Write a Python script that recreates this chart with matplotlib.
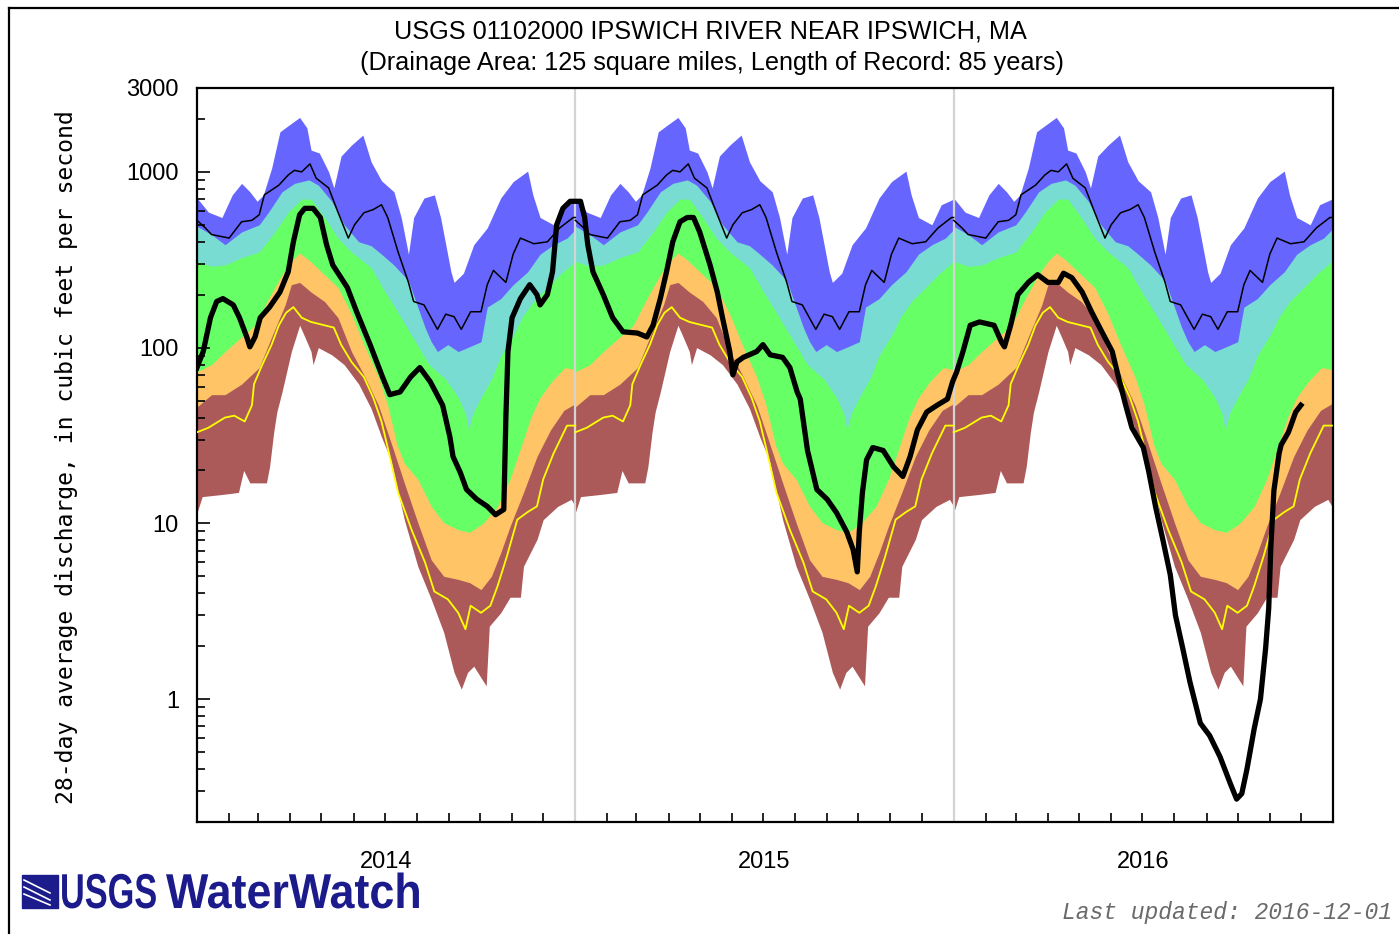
import numpy as np
import matplotlib
matplotlib.use("Agg")
import matplotlib.pyplot as plt
import matplotlib.dates as mdates
from matplotlib.ticker import NullFormatter
from matplotlib.lines import Line2D
from matplotlib.patches import Rectangle, PathPatch
from matplotlib.textpath import TextPath
from matplotlib.font_manager import FontProperties
from matplotlib.transforms import Affine2D

years = [2014, 2015, 2016]

# daily statistics for each day of the year (cfs) - same envelope every year
max_doy = [0, 11, 24, 34, 43, 51, 58, 64, 72, 80, 89, 99, 106, 110, 118, 127, 132, 139, 149, 160,
           168, 178, 190, 197, 204, 209, 219, 229, 235, 245, 248, 257, 267, 280, 293, 305, 319, 324,
           331, 344, 353, 365]
max_cfs = [710, 590, 550, 740, 860, 770, 680, 740, 1050, 1690, 1850, 2040, 1780, 1330, 1280, 1000,
           810, 1230, 1420, 1620, 1140, 890, 770, 550, 340, 550, 710, 740, 550, 270, 235, 265, 385,
           480, 710, 880, 1010, 740, 550, 500, 650, 700]

p90_doy = [0, 14, 27, 43, 60, 69, 82, 94, 108, 117, 130, 142, 156, 168, 178, 190, 204, 213, 220,
           226, 232, 242, 252, 261, 274, 280, 293, 305, 319, 331, 344, 357, 365]
p90_cfs = [490, 440, 385, 455, 500, 590, 770, 860, 900, 840, 680, 500, 400, 380, 340, 295, 240, 170,
           130, 108, 95, 104, 95, 100, 108, 170, 190, 228, 270, 340, 385, 420, 470]

p75_doy = [0, 14, 27, 43, 60, 75, 88, 101, 110, 123, 136, 149, 168, 180, 192, 208, 224, 240, 252,
           259, 262, 266, 274, 285, 293, 306, 314, 325, 338, 350, 365]
p75_cfs = [310, 290, 295, 325, 350, 455, 590, 700, 700, 550, 420, 350, 285, 215, 165, 115, 80, 66,
           52, 42, 34, 42, 52, 68, 90, 120, 150, 185, 220, 260, 310]

p25_doy = [0, 14, 27, 43, 56, 69, 82, 91, 99, 108, 123, 136, 149, 161, 175, 184, 193, 200, 213, 226,
           238, 252, 263, 276, 290, 302, 315, 322, 331, 342, 355, 365]
p25_cfs = [73, 80, 95, 115, 134, 190, 260, 310, 345, 315, 260, 220, 155, 104, 68, 47, 28, 22, 17.8,
           12.5, 10.1, 9.2, 8.9, 10, 12.5, 17.8, 30, 40, 52, 64, 77, 75]

p10_doy = [0, 14, 27, 43, 60, 72, 85, 91, 99, 110, 123, 136, 149, 161, 175, 187, 200, 213, 226, 238,
           252, 263, 274, 284, 293, 302, 315, 328, 341, 354, 365]
p10_cfs = [46, 54, 54, 62, 77, 115, 175, 228, 235, 207, 183, 148, 95, 70, 47, 29, 17, 10.1, 6.2, 5.0,
           4.8, 4.6, 4.2, 5.0, 6.8, 9.6, 15, 24, 34, 44, 48]

min_doy = [0, 5, 24, 40, 45, 51, 67, 70, 74, 77, 82, 91, 99, 104, 110, 112, 117, 130, 142, 156,
           168, 178, 187, 200, 213, 226, 238, 248, 255, 261, 267, 279, 282, 293, 302, 312, 315, 328,
           334, 348, 361, 365]
min_cfs = [11.5, 14.2, 14.6, 15, 20, 17, 17, 21, 33, 43, 56, 95, 134, 115, 95, 80, 100, 91, 80, 62,
           45, 31, 23, 10.5, 5.7, 3.7, 2.4, 1.42, 1.14, 1.42, 1.54, 1.19, 2.6, 3.1, 3.8, 3.8, 5.7,
           8.1, 10.5, 12.5, 13.7, 12.5]

# yellow and thin black daily lines
yel_doy = [0, 11, 27, 36, 46, 53, 55, 63, 72, 79, 86, 93, 101, 110, 123, 132, 139, 149, 161, 170,
           178, 184, 194, 207, 220, 229, 242, 252, 259, 264, 274, 283, 290, 299, 309, 319, 328, 334,
           344, 357, 365]
yel_cfs = [33, 35, 40, 41, 38, 47, 62, 80, 104, 134, 158, 170, 148, 140, 134, 130, 104, 83, 68, 52,
           38, 27, 15, 9.2, 6.0, 4.1, 3.7, 3.1, 2.5, 3.4, 3.1, 3.4, 4.4, 6.5, 10.5, 11.6, 12.5, 17.8,
           25, 36, 36]

mean_doy = [0, 8, 14, 31, 43, 53, 60, 65, 79, 88, 94, 101, 109, 115, 127, 136, 146, 152, 161, 170,
            178, 184, 194, 204, 209, 219, 232, 240, 248, 255, 264, 274, 280, 286, 298, 305, 312, 325,
            338, 350, 363, 365]
mean_cfs = [530, 480, 440, 420, 520, 530, 570, 740, 840, 960, 1020, 1000, 1110, 920, 810, 590, 420,
            500, 585, 610, 650, 550, 350, 235, 183, 175, 127, 155, 150, 127, 160, 160, 228, 275, 235,
            340, 420, 390, 400, 480, 550, 550]

# observed 28-day average flow, days since 2014-01-01
obs_day = [0, 6, 13, 19, 25, 35, 41, 48, 51, 56, 61, 70, 80, 88, 93, 99, 104, 112, 119, 125,
           131, 145, 154, 167, 179, 186, 196, 206, 215, 225, 237, 244, 247, 254, 260, 270, 280, 288,
           294, 296, 298, 300, 304, 312, 321, 328, 331, 338, 343, 347, 353, 360, 370, 374, 377, 382,
           392, 401, 411, 425, 434, 440, 447, 453, 459, 466, 473, 479, 485, 495, 502, 507, 514, 517,
           521, 527, 540, 546, 553, 565, 572, 579, 582, 589, 598, 608, 617, 627, 633, 637, 639, 642,
           646, 652, 662, 672, 681, 688, 695, 704, 714, 724, 729, 733, 739, 746, 755, 769, 776, 779,
           785, 792, 802, 811, 821, 831, 836, 844, 854, 863, 873, 883, 889, 896, 902, 913, 918, 925,
           932, 939, 944, 951, 958, 968, 977, 987, 997, 1003, 1008, 1013, 1020, 1026, 1031, 1034,
           1036, 1039, 1044, 1046, 1053, 1060, 1065]
obs_cfs = [77, 95, 148, 183, 190, 175, 148, 115, 101, 115, 148, 170, 207, 270, 400, 570, 620, 620,
           550, 385, 295, 220, 160, 104, 68, 54, 56, 68, 77, 64, 47, 31, 24, 19.5, 15.6, 13.7, 12.5,
           11.2, 11.8, 12, 40, 95, 148, 190, 228, 200, 175, 200, 270, 500, 620, 680, 680, 550, 385,
           270, 200, 148, 123, 121, 115, 134, 190, 270, 400, 520, 550, 550, 455, 295, 207, 148, 95,
           70, 83, 88, 95, 104, 91, 88, 77, 56, 51, 26, 15.6, 13.7, 11.5, 8.9, 7.1, 5.3, 9, 15, 23,
           27, 26, 21, 18.5, 24, 34, 43, 47, 51, 64, 73, 95, 134, 140, 134, 108, 101, 134, 200, 235,
           260, 235, 235, 265, 250, 207, 160, 123, 95, 68, 47, 35, 27, 20, 12.3, 8.0, 5.1, 3.0, 1.95,
           1.25, 0.73, 0.62, 0.47, 0.33, 0.27, 0.29, 0.40, 0.68, 1.0, 1.95, 3.3, 7.3, 15.4, 25, 28,
           33, 43, 47]

year_labels = ["2014", "2015", "2016"]
ytick_vals = [1, 10, 100, 1000, 3000]

W, H = 1399, 934
fig = plt.figure(figsize=(W / 100, H / 100), dpi=100)
ax = fig.add_axes([197 / W, 1 - 822 / H, (1333 - 197) / W, (822 - 88) / H])


def on_dates(year, doy):
    return np.datetime64(f"{year}-01-01") + np.array(doy).astype("timedelta64[D]")


layers = [(max_doy, max_cfs, "#6666ff"),
          (p90_doy, p90_cfs, "#79dcd3"),
          (p75_doy, p75_cfs, "#66ff66"),
          (p25_doy, p25_cfs, "#ffc466"),
          (p10_doy, p10_cfs, "#ac5a59"),
          (min_doy, min_cfs, "white")]

for doy, cfs, col in layers:
    for yr in years:
        ax.fill_between(on_dates(yr, doy), cfs, 0.05, color=col, lw=0, zorder=1)

for yr in [2015, 2016]:
    ax.axvline(np.datetime64(f"{yr}-01-01"), color="#d4d4d4", lw=1.6, zorder=2)

for yr in years:
    ax.plot(on_dates(yr, yel_doy), yel_cfs, color="#ffff00", lw=1.3, zorder=3)
    ax.plot(on_dates(yr, mean_doy), mean_cfs, color="black", lw=1.1, zorder=3)

ax.plot(on_dates(2014, obs_day), obs_cfs, color="black", lw=3.8, zorder=4,
        solid_joinstyle="round")

ax.set_yscale("log")
ax.set_ylim(0.2, 3000)
ax.set_xlim(np.datetime64("2014-01-01"), np.datetime64("2017-01-01"))

ax.set_yticks(ytick_vals)
ax.set_yticklabels([str(v) for v in ytick_vals])
minor_y = [m * 10.0 ** e for e in range(-1, 4) for m in range(2, 10)]
minor_y = [v for v in minor_y if 0.2 < v < 3000]
ax.set_yticks(minor_y, minor=True)
ax.yaxis.set_minor_formatter(NullFormatter())

ax.set_xticks([np.datetime64(f"{yr}-07-02") for yr in years])
ax.set_xticklabels(year_labels)
ax.xaxis.set_minor_locator(mdates.MonthLocator())
ax.xaxis.set_minor_formatter(NullFormatter())

ax.tick_params(axis="x", which="major", length=0, pad=21, labelsize=17)
ax.tick_params(axis="x", which="minor", direction="in", length=6.5, width=1.2, top=False)
ax.tick_params(axis="y", which="major", direction="in", length=9.5, width=1.2, pad=13,
               labelsize=17)
ax.tick_params(axis="y", which="minor", direction="in", length=6, width=1.2)
for lab in ax.get_xticklabels() + ax.get_yticklabels():
    lab.set_family("Liberation Sans")
for sp in ax.spines.values():
    sp.set_linewidth(1.6)

fig.text(710 / W, 1 - 31 / H, "USGS 01102000 IPSWICH RIVER NEAR IPSWICH, MA",
         ha="center", va="center", fontsize=18.2, family="Liberation Sans")
fig.text(712 / W, 1 - 63 / H, "(Drainage Area: 125 square miles, Length of Record: 85 years)",
         ha="center", va="center", fontsize=18.2, family="Liberation Sans")
fig.text(67 / W, 1 - 457 / H, "28-day average discharge, in cubic feet per second",
         rotation=90, ha="center", va="center", fontsize=16.7, family="DejaVu Sans Mono")

# logo: condensed bold lettering built from text paths
navy = "#1b1b8c"
fig.add_artist(Rectangle((22 / W, 1 - 908 / H), 36 / W, 33 / H, transform=fig.transFigure,
                         color=navy))
for y0, y1 in [(880, 893), (887, 900), (894, 905)]:
    fig.add_artist(Line2D([24 / W, 50 / W], [1 - y0 / H, 1 - y1 / H], color="white", lw=1.2,
                          transform=fig.transFigure))
bold = FontProperties(family="Liberation Sans", weight="bold")
for word, x0, sx in [("USGS", 60, 0.70), ("WaterWatch", 166, 0.915)]:
    tp = TextPath((0, 0), word, size=49, prop=bold)
    tr = Affine2D().scale(sx / W, 1 / H).translate(x0 / W, 1 - 908 / H) + fig.transFigure
    fig.add_artist(PathPatch(tp, transform=tr, color=navy, lw=0))

fig.text(1392 / W, 1 - 912 / H, "Last updated: 2016-12-01", ha="right", va="center",
         fontsize=16.6, style="italic", color="#6a6a6a", family="Liberation Mono")

# outer frame
fig.add_artist(Line2D([9 / W, 9 / W], [0, 1 - 8 / H], color="black", lw=1.6,
                      transform=fig.transFigure))
fig.add_artist(Line2D([9 / W, 1], [1 - 8 / H, 1 - 8 / H], color="black", lw=1.6,
                      transform=fig.transFigure))

fig.savefig("out.png", dpi=100)
